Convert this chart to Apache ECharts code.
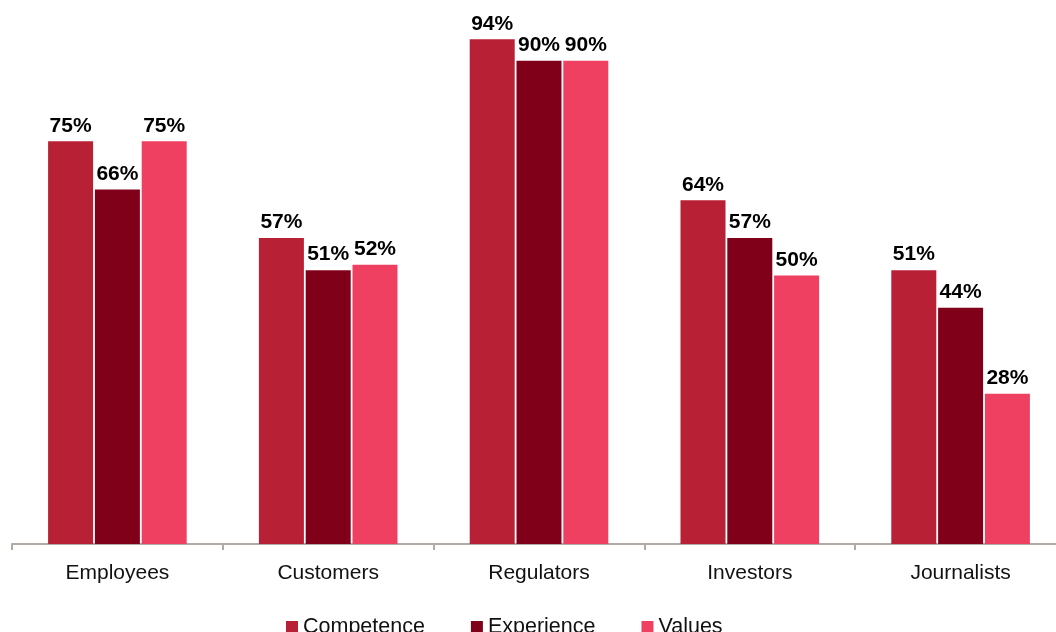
<!DOCTYPE html>
<html>
<head>
<meta charset="utf-8">
<script src="https://cdn.jsdelivr.net/npm/echarts@6/dist/echarts.min.js"></script>
<style>
  html, body { margin: 0; padding: 0; background: #fff; overflow: hidden; }
  /* the plot runs 10px past the right edge so the last group keeps full width */
  #chart { width: 1066px; height: 632px; }
</style>
</head>
<body>
<div id="chart"></div>
<script>
// Share of respondents per stakeholder group (%)
const categories = ['Employees', 'Customers', 'Regulators', 'Investors', 'Journalists'];
const competence = [75, 57, 94, 64, 51];
const experience = [66, 51, 90, 57, 44];
const values = [75, 52, 90, 50, 28];

const seriesNames = ['Competence', 'Experience', 'Values'];
const seriesColors = ['#b82035', '#80001a', '#f04062'];
const seriesData = [competence, experience, values];

const FONT = '"Liberation Sans", Arial, Helvetica, sans-serif';

const chart = echarts.init(document.getElementById('chart'), null, { renderer: 'canvas' });

chart.setOption({
  animation: false,
  backgroundColor: '#ffffff',
  textStyle: { fontFamily: FONT },
  grid: { left: 12, top: 7, right: 0, bottom: 88, containLabel: false },
  legend: {
    data: seriesNames,
    left: 286,
    top: 616,
    padding: 0,
    itemWidth: 12,
    itemHeight: 12,
    itemGap: 46,
    icon: 'rect',
    textStyle: { fontFamily: FONT, fontSize: 21.5, color: '#111', padding: [0, 0, 0, 0] }
  },
  xAxis: {
    type: 'category',
    data: categories,
    axisLine: { lineStyle: { color: '#b2aaa4', width: 2 } },
    axisTick: { show: true, length: 6, lineStyle: { color: '#b2aaa4', width: 2 } },
    axisLabel: { fontFamily: FONT, fontSize: 21, color: '#111', margin: 19 }
  },
  yAxis: {
    type: 'value',
    min: 0,
    max: 100,
    show: false,
    splitLine: { show: false }
  },
  series: seriesNames.map((name, i) => ({
    name: name,
    type: 'bar',
    data: seriesData[i],
    barWidth: 45,
    barGap: '4%',
    itemStyle: { color: seriesColors[i] },
    label: {
      show: true,
      position: 'top',
      distance: 5,
      formatter: '{c}%',
      fontFamily: FONT,
      fontSize: 21,
      fontWeight: 'bold',
      color: '#000'
    }
  }))
});
</script>
</body>
</html>
